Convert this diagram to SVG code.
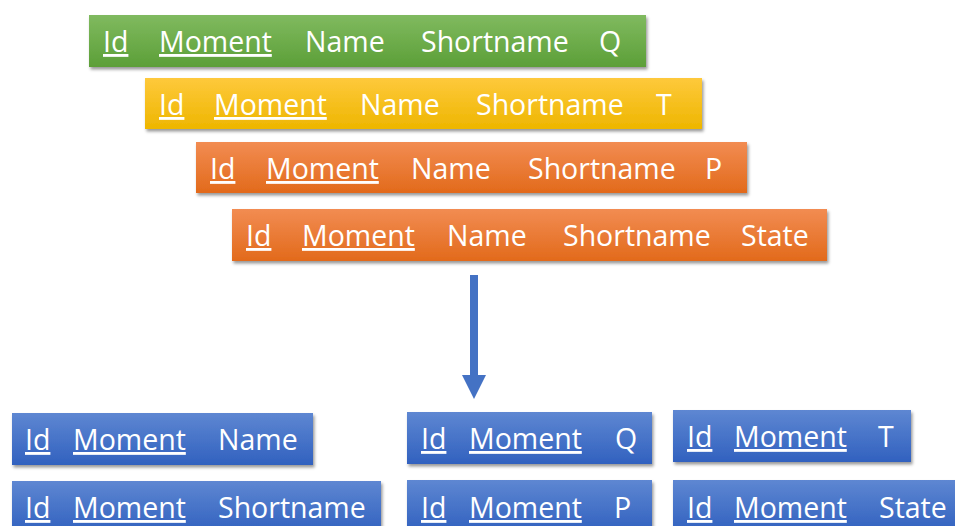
<svg xmlns="http://www.w3.org/2000/svg" width="955" height="526" viewBox="0 0 955 526">
  <defs>
    <linearGradient id="gGreen" x1="0" y1="0" x2="0" y2="1">
      <stop offset="0" stop-color="#80ba5f"/>
      <stop offset="1" stop-color="#5c9f38"/>
    </linearGradient>
    <linearGradient id="gYellow" x1="0" y1="0" x2="0" y2="1">
      <stop offset="0" stop-color="#fec93c"/>
      <stop offset="1" stop-color="#eeb600"/>
    </linearGradient>
    <linearGradient id="gOrange" x1="0" y1="0" x2="0" y2="1">
      <stop offset="0" stop-color="#f28c52"/>
      <stop offset="1" stop-color="#e26a1b"/>
    </linearGradient>
    <linearGradient id="gBlue" x1="0" y1="0" x2="0" y2="1">
      <stop offset="0" stop-color="#5e87d2"/>
      <stop offset="1" stop-color="#3161bf"/>
    </linearGradient>
    <filter id="shadow" x="-5%" y="-20%" width="110%" height="150%">
      <feDropShadow dx="1.5" dy="2.5" stdDeviation="1.8" flood-color="#000" flood-opacity="0.4"/>
    </filter>
  </defs>
  <style>
    text { font-family: "Open Sans", "Noto Sans", "Liberation Sans", sans-serif; font-size: 28.5px; fill: #ffffff; }
    .key { text-decoration: underline; }
    .box { filter: url(#shadow); }
  </style>

  <rect width="955" height="526" fill="#ffffff"/>

  <!-- source tables -->
  <g id="table-q">
    <rect class="box" x="89" y="15" width="557" height="52" fill="url(#gGreen)"/>
    <text x="103" y="52" class="key">Id</text>
    <text x="159" y="52" class="key">Moment</text>
    <text x="305" y="52">Name</text>
    <text x="421" y="52">Shortname</text>
    <text x="599" y="52">Q</text>
  </g>
  <g id="table-t">
    <rect class="box" x="145" y="78" width="557" height="51" fill="url(#gYellow)"/>
    <text x="159" y="115" class="key">Id</text>
    <text x="214" y="115" class="key">Moment</text>
    <text x="360" y="115">Name</text>
    <text x="476" y="115">Shortname</text>
    <text x="656" y="115">T</text>
  </g>
  <g id="table-p">
    <rect class="box" x="196" y="142" width="551" height="51" fill="url(#gOrange)"/>
    <text x="210" y="179" class="key">Id</text>
    <text x="266" y="179" class="key">Moment</text>
    <text x="411" y="179">Name</text>
    <text x="528" y="179">Shortname</text>
    <text x="705" y="179">P</text>
  </g>
  <g id="table-state">
    <rect class="box" x="232" y="209" width="595" height="52" fill="url(#gOrange)"/>
    <text x="246" y="246" class="key">Id</text>
    <text x="302" y="246" class="key">Moment</text>
    <text x="447" y="246">Name</text>
    <text x="563" y="246">Shortname</text>
    <text x="741" y="246">State</text>
  </g>

  <!-- connectors -->
  <g id="connectors">
    <rect x="470" y="275" width="8" height="101" fill="#4472c4"/>
    <polygon points="462,375 486,375 474,399" fill="#4472c4"/>
  </g>

  <!-- split tables -->
  <g id="split-name">
    <rect class="box" x="12" y="413" width="301" height="52" fill="url(#gBlue)"/>
    <text x="25" y="450" class="key">Id</text>
    <text x="73" y="450" class="key">Moment</text>
    <text x="218" y="450">Name</text>
  </g>
  <g id="split-shortname">
    <rect class="box" x="12" y="481" width="369" height="52" fill="url(#gBlue)"/>
    <text x="25" y="518" class="key">Id</text>
    <text x="73" y="518" class="key">Moment</text>
    <text x="218" y="518">Shortname</text>
  </g>
  <g id="split-q">
    <rect class="box" x="407" y="412" width="245" height="52" fill="url(#gBlue)"/>
    <text x="421" y="449" class="key">Id</text>
    <text x="469" y="449" class="key">Moment</text>
    <text x="615" y="449">Q</text>
  </g>
  <g id="split-t">
    <rect class="box" x="673" y="410" width="238" height="52" fill="url(#gBlue)"/>
    <text x="687" y="447" class="key">Id</text>
    <text x="734" y="447" class="key">Moment</text>
    <text x="878" y="447">T</text>
  </g>
  <g id="split-p">
    <rect class="box" x="407" y="480" width="245" height="52" fill="url(#gBlue)"/>
    <text x="421" y="518" class="key">Id</text>
    <text x="469" y="518" class="key">Moment</text>
    <text x="614" y="518">P</text>
  </g>
  <g id="split-state">
    <rect class="box" x="673" y="480" width="290" height="52" fill="url(#gBlue)"/>
    <text x="687" y="518" class="key">Id</text>
    <text x="734" y="518" class="key">Moment</text>
    <text x="879" y="518">State</text>
  </g>
</svg>
